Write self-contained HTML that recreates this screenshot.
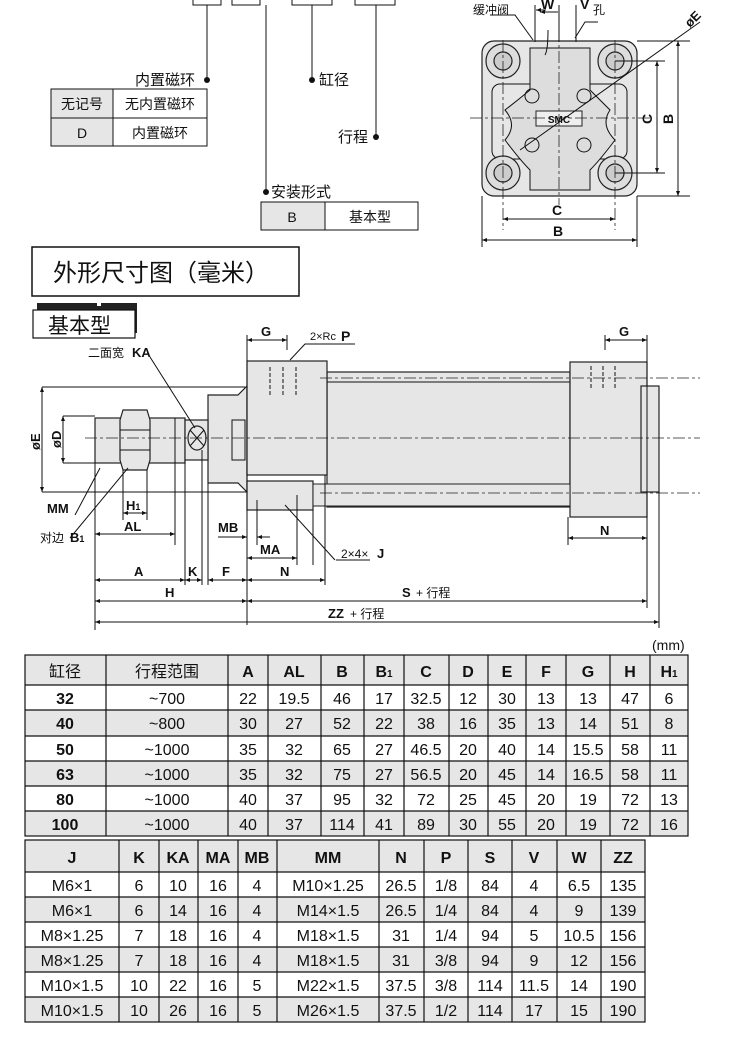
<!DOCTYPE html>
<html><head><meta charset="utf-8"><style>
body{margin:0;background:#fff}
svg{display:block}
text{font-family:"Liberation Sans","Noto Sans CJK SC",sans-serif;fill:#111}
.b{font-weight:bold}
.d{stroke:#111;stroke-width:1;fill:none}
.g{fill:#e6e6e6;stroke:#222;stroke-width:1.2}
.c{stroke:#222;stroke-width:.8;stroke-dasharray:12 3 3 3;fill:none}
.t text{font-size:16px;text-anchor:middle}
</style></head><body>
<svg width="750" height="1037" viewBox="0 0 750 1037" xmlns="http://www.w3.org/2000/svg">
<defs><marker id="a" viewBox="0 0 10 10" refX="10" refY="5" markerWidth="7" markerHeight="5" orient="auto-start-reverse"><path d="M0,1 L10,5 L0,9z" fill="#111"/></marker></defs>

<g class="d" stroke-width="2"><rect x="193" y="-10" width="28" height="15"/><rect x="232" y="-10" width="28" height="15"/><rect x="292" y="-10" width="40" height="15"/><rect x="355" y="-10" width="40" height="15"/></g>
<g class="d"><path d="M207,5V80M266,5V192M312,5V80M376,5V137"/></g>
<g fill="#111"><circle cx="207" cy="80" r="3"/><circle cx="266" cy="192" r="3"/><circle cx="312" cy="80" r="3"/><circle cx="376" cy="137" r="3"/></g>
<text x="135" y="85" font-size="15">内置磁环</text>
<text x="319" y="85" font-size="15">缸径</text>
<text x="338" y="142" font-size="15">行程</text>
<text x="271" y="197" font-size="15">安装形式</text>
<rect x="51" y="89" width="62" height="29" fill="#e6e6e6"/><rect x="51" y="118" width="62" height="28" fill="#e6e6e6"/>
<g class="d" stroke-width="1.3"><rect x="51" y="89" width="156" height="57"/><path d="M113,89V146M51,118H207"/></g>
<text x="82" y="109" font-size="14" text-anchor="middle">无记号</text><text x="160" y="109" font-size="14" text-anchor="middle">无内置磁环</text>
<text x="82" y="138" font-size="14" text-anchor="middle">D</text><text x="160" y="138" font-size="14" text-anchor="middle">内置磁环</text>
<rect x="261" y="202" width="64" height="28" fill="#e6e6e6"/>
<g class="d" stroke-width="1.3"><rect x="261" y="202" width="157" height="28"/><path d="M325,202V230"/></g>
<text x="292" y="222" font-size="14" text-anchor="middle">B</text><text x="370" y="222" font-size="14" text-anchor="middle">基本型</text>

<!-- end view -->
<rect x="482" y="41" width="155" height="155" rx="12" class="g"/>
<g class="d" stroke="#333"><rect x="492" y="84" width="135" height="75" rx="8"/><path d="M530,48H590V90Q600,100 610,110Q600,125 615,140Q600,160 590,170V190H530V170Q520,160 505,140Q518,125 505,110Q518,100 530,90Z" fill="#ddd"/><circle cx="532" cy="96" r="7"/><circle cx="584" cy="96" r="7"/><circle cx="532" cy="145" r="7"/><circle cx="584" cy="145" r="7"/></g>
<rect x="536" y="111" width="46" height="15" fill="#eee" stroke="#222"/><text x="559" y="123" font-size="10" text-anchor="middle" class="b">SMC</text>
<g stroke="#222" stroke-width="1.2"><circle cx="503" cy="61" r="17" fill="#ddd"/><circle cx="615" cy="61" r="17" fill="#ddd"/><circle cx="503" cy="173" r="17" fill="#ddd"/><circle cx="615" cy="173" r="17" fill="#ddd"/><circle cx="503" cy="61" r="9" fill="#ccc"/><circle cx="615" cy="61" r="9" fill="#ccc"/><circle cx="503" cy="173" r="9" fill="#ccc"/><circle cx="615" cy="173" r="9" fill="#ccc"/></g>
<g class="c"><path d="M470,118H650M559,30V205M503,40V230M615,40V230"/></g>
<g class="d"><path d="M535,5V42M576,5V42M559,5V42"/><path d="M637,41H690M637,196H690M615,61H665M615,173H665M482,196V247M637,196V247"/>
<path d="M548,30 Q548,50 545,55" /><path d="M490,15H515L533,40"/><path d="M598,22H585L575,38"/>
<line x1="546" y1="10" x2="536" y2="10" marker-end="url(#a)"/><line x1="540" y1="12" x2="558" y2="12" marker-start="url(#a)"/>
<line x1="503" y1="219" x2="615" y2="219" marker-start="url(#a)" marker-end="url(#a)"/>
<line x1="482" y1="240" x2="637" y2="240" marker-start="url(#a)" marker-end="url(#a)"/>
<line x1="657" y1="61" x2="657" y2="173" marker-start="url(#a)" marker-end="url(#a)"/>
<line x1="678" y1="41" x2="678" y2="196" marker-start="url(#a)" marker-end="url(#a)"/>
<line x1="520" y1="150" x2="700" y2="22"/></g>
<text x="473" y="14" font-size="12">缓冲阀</text><text x="593" y="14" font-size="12">孔</text>
<text x="541" y="9" font-size="14" class="b">W</text><text x="580" y="9" font-size="14" class="b">V</text>
<text x="552" y="215" font-size="14" class="b">C</text><text x="553" y="236" font-size="14" class="b">B</text>
<text transform="translate(652,124) rotate(-90)" font-size="14" class="b">C</text>
<text transform="translate(673,124) rotate(-90)" font-size="14" class="b">B</text>
<text transform="translate(690,28) rotate(-45)" font-size="13" class="b">øE</text>

<rect x="32" y="247" width="267" height="49" fill="#fff" stroke="#111" stroke-width="1.5"/>
<text x="53" y="281" font-size="24">外形尺寸图（毫米）</text>
<rect x="37" y="303" width="100" height="30" fill="#222"/><rect x="97" y="300" width="4" height="6" fill="#fff"/>
<rect x="33" y="310" width="102" height="28" fill="#fff" stroke="#111" stroke-width="1.2"/>
<text x="48" y="333" font-size="21">基本型</text>

<!-- main drawing -->
<path d="M208,395H238L247,386V492L238,483H208Z" class="g"/>
<rect x="327" y="372" width="243" height="135" class="g"/>
<path d="M327,382H570M327,497H570" class="d" stroke="#333"/>
<rect x="247" y="361" width="80" height="114" class="g"/>
<rect x="570" y="362" width="77" height="155" class="g"/>
<rect x="641" y="386" width="18" height="106" class="g"/>
<rect x="247" y="481" width="66" height="29" class="g"/>
<rect x="313" y="484" width="257" height="22" fill="#e6e6e6" stroke="#222"/>
<rect x="95" y="418" width="90" height="45" class="g"/>
<rect x="185" y="420" width="23" height="40" class="g"/>
<path d="M123,410H147L150,420V460L147,470H123L120,460V420Z" class="g"/>
<path d="M120,430H150M120,450H150" class="d"/>
<ellipse cx="197" cy="438" rx="9" ry="12" class="g"/><path d="M190,430L204,446M204,430L190,446" class="d"/>
<path d="M232,420H245V460H232Z" class="d"/>
<g class="d" stroke-dasharray="4 2"><path d="M270,367V395M283,367V395M296,367V395M591,366V390M603,366V390M615,366V390"/></g>
<g class="c"><path d="M85,438H700M320,378H700M320,493H700"/></g>

<g class="d">
<path d="M42,387H245M42,492H247M63,416H95M63,463H95"/>
<line x1="42" y1="387" x2="42" y2="492" marker-start="url(#a)" marker-end="url(#a)"/>
<line x1="63" y1="416" x2="63" y2="463" marker-start="url(#a)" marker-end="url(#a)"/>
<path d="M95,463V630M123,470V520M147,470V520M175,418V545M185,460V585M202,450V585M208,483V585M247,335V625M287,335V350M313,510V565M325,475V585M568,517V545M647,335V608M659,492V628M605,335V350"/>
<line x1="123" y1="513" x2="147" y2="513" marker-start="url(#a)" marker-end="url(#a)"/>
<line x1="95" y1="534" x2="175" y2="534" marker-start="url(#a)" marker-end="url(#a)"/>
<line x1="95" y1="580" x2="185" y2="580" marker-start="url(#a)" marker-end="url(#a)"/>
<line x1="185" y1="580" x2="202" y2="580" marker-start="url(#a)" marker-end="url(#a)"/>
<line x1="208" y1="580" x2="247" y2="580" marker-start="url(#a)" marker-end="url(#a)"/>
<line x1="247" y1="580" x2="325" y2="580" marker-start="url(#a)" marker-end="url(#a)"/>
<line x1="95" y1="601" x2="247" y2="601" marker-start="url(#a)" marker-end="url(#a)"/>
<line x1="247" y1="601" x2="647" y2="601" marker-start="url(#a)" marker-end="url(#a)"/>
<line x1="95" y1="622" x2="659" y2="622" marker-start="url(#a)" marker-end="url(#a)"/>
<line x1="247" y1="558" x2="297" y2="558" marker-start="url(#a)" marker-end="url(#a)"/>
<line x1="218" y1="537" x2="247" y2="537" marker-end="url(#a)"/><line x1="270" y1="537" x2="257" y2="537" marker-end="url(#a)"/>
<path d="M257,500V545M297,495V565"/>
<line x1="568" y1="538" x2="647" y2="538" marker-start="url(#a)" marker-end="url(#a)"/>
<line x1="247" y1="340" x2="287" y2="340" marker-start="url(#a)" marker-end="url(#a)"/>
<line x1="605" y1="340" x2="647" y2="340" marker-start="url(#a)" marker-end="url(#a)"/>
<path d="M355,344H305L290,360M150,357L195,428M75,515L100,468M70,538L128,468M335,560L285,505M336,560H370"/>
</g>
<g font-size="13" class="b">
<text x="261" y="336">G</text><text x="619" y="336">G</text>
<text x="310" y="340" font-size="11" font-weight="normal">2×Rc</text><text x="341" y="341" font-size="14">P</text>
<text x="88" y="357" font-size="12" font-weight="normal">二面宽</text><text x="132" y="357">KA</text>
<text transform="translate(40,450) rotate(-90)">øE</text><text transform="translate(61,448) rotate(-90)">øD</text>
<text x="47" y="513">MM</text><text x="126" y="510">H<tspan font-size="9">1</tspan></text>
<text x="124" y="531">AL</text><text x="40" y="542" font-size="12" font-weight="normal">对边</text><text x="70" y="542">B<tspan font-size="9">1</tspan></text>
<text x="218" y="532">MB</text><text x="260" y="554">MA</text><text x="341" y="558" font-size="12" font-weight="normal">2×4×</text><text x="377" y="558">J</text>
<text x="134" y="576">A</text><text x="188" y="576">K</text><text x="222" y="576">F</text><text x="280" y="576">N</text><text x="600" y="535">N</text>
<text x="165" y="597">H</text><text x="402" y="597">S</text><text x="416" y="597" font-size="12" font-weight="normal">+ 行程</text>
<text x="328" y="618">ZZ</text><text x="350" y="618" font-size="12" font-weight="normal">+ 行程</text>
</g>
<text x="652" y="650" font-size="14">(mm)</text>

<!-- table 1 -->
<g class="t">
<rect x="25" y="655" width="663" height="30" fill="#e6e6e6"/>
<rect x="25" y="710" width="663" height="26" fill="#e6e6e6"/><rect x="25" y="761" width="663" height="25" fill="#e6e6e6"/><rect x="25" y="811" width="663" height="25" fill="#e6e6e6"/>
<g stroke="#111" stroke-width="1.2" fill="none"><rect x="25" y="655" width="663" height="181"/>
<path d="M106,655V836M228,655V836M268,655V836M321,655V836M364,655V836M404,655V836M449,655V836M488,655V836M526,655V836M566,655V836M610,655V836M650,655V836M25,685H688M25,710H688M25,736H688M25,761H688M25,786H688M25,811H688"/></g>
<g font-size="17"><text x="65" y="677">缸径</text><text x="167" y="677">行程范围</text></g>
<g class="b" font-size="17"><text x="248" y="677">A</text><text x="294" y="677">AL</text><text x="342" y="677">B</text><text x="384" y="677">B<tspan font-size="10">1</tspan></text><text x="426" y="677">C</text><text x="468" y="677">D</text><text x="507" y="677">E</text><text x="546" y="677">F</text><text x="588" y="677">G</text><text x="630" y="677">H</text><text x="669" y="677">H<tspan font-size="10">1</tspan></text>
<text x="65" y="704">32</text><text x="65" y="729">40</text><text x="65" y="755">50</text><text x="65" y="780">63</text><text x="65" y="805">80</text><text x="65" y="830">100</text></g>
<g><text x="167" y="704">~700</text><text x="248" y="704">22</text><text x="294" y="704">19.5</text><text x="342" y="704">46</text><text x="384" y="704">17</text><text x="426" y="704">32.5</text><text x="468" y="704">12</text><text x="507" y="704">30</text><text x="546" y="704">13</text><text x="588" y="704">13</text><text x="630" y="704">47</text><text x="669" y="704">6</text></g>
<g><text x="167" y="729">~800</text><text x="248" y="729">30</text><text x="294" y="729">27</text><text x="342" y="729">52</text><text x="384" y="729">22</text><text x="426" y="729">38</text><text x="468" y="729">16</text><text x="507" y="729">35</text><text x="546" y="729">13</text><text x="588" y="729">14</text><text x="630" y="729">51</text><text x="669" y="729">8</text></g>
<g><text x="167" y="755">~1000</text><text x="248" y="755">35</text><text x="294" y="755">32</text><text x="342" y="755">65</text><text x="384" y="755">27</text><text x="426" y="755">46.5</text><text x="468" y="755">20</text><text x="507" y="755">40</text><text x="546" y="755">14</text><text x="588" y="755">15.5</text><text x="630" y="755">58</text><text x="669" y="755">11</text></g>
<g><text x="167" y="780">~1000</text><text x="248" y="780">35</text><text x="294" y="780">32</text><text x="342" y="780">75</text><text x="384" y="780">27</text><text x="426" y="780">56.5</text><text x="468" y="780">20</text><text x="507" y="780">45</text><text x="546" y="780">14</text><text x="588" y="780">16.5</text><text x="630" y="780">58</text><text x="669" y="780">11</text></g>
<g><text x="167" y="805">~1000</text><text x="248" y="805">40</text><text x="294" y="805">37</text><text x="342" y="805">95</text><text x="384" y="805">32</text><text x="426" y="805">72</text><text x="468" y="805">25</text><text x="507" y="805">45</text><text x="546" y="805">20</text><text x="588" y="805">19</text><text x="630" y="805">72</text><text x="669" y="805">13</text></g>
<g><text x="167" y="830">~1000</text><text x="248" y="830">40</text><text x="294" y="830">37</text><text x="342" y="830">114</text><text x="384" y="830">41</text><text x="426" y="830">89</text><text x="468" y="830">30</text><text x="507" y="830">55</text><text x="546" y="830">20</text><text x="588" y="830">19</text><text x="630" y="830">72</text><text x="669" y="830">16</text></g>
</g>

<!-- table 2 -->
<g class="t">
<rect x="25" y="840" width="620" height="32" fill="#e6e6e6"/>
<rect x="25" y="897" width="620" height="25" fill="#e6e6e6"/><rect x="25" y="947" width="620" height="25" fill="#e6e6e6"/><rect x="25" y="997" width="620" height="25" fill="#e6e6e6"/>
<g stroke="#111" stroke-width="1.2" fill="none"><rect x="25" y="840" width="620" height="182"/>
<path d="M119,840V1022M159,840V1022M198,840V1022M238,840V1022M277,840V1022M379,840V1022M424,840V1022M468,840V1022M512,840V1022M557,840V1022M601,840V1022M25,872H645M25,897H645M25,922H645M25,947H645M25,972H645M25,997H645"/></g>
<g class="b" font-size="17"><text x="72" y="863">J</text><text x="139" y="863">K</text><text x="178" y="863">KA</text><text x="218" y="863">MA</text><text x="257" y="863">MB</text><text x="328" y="863">MM</text><text x="401" y="863">N</text><text x="446" y="863">P</text><text x="490" y="863">S</text><text x="534" y="863">V</text><text x="579" y="863">W</text><text x="623" y="863">ZZ</text></g>
<g><text x="72" y="891">M6×1</text><text x="139" y="891">6</text><text x="178" y="891">10</text><text x="218" y="891">16</text><text x="257" y="891">4</text><text x="328" y="891">M10×1.25</text><text x="401" y="891">26.5</text><text x="446" y="891">1/8</text><text x="490" y="891">84</text><text x="534" y="891">4</text><text x="579" y="891">6.5</text><text x="623" y="891">135</text></g>
<g><text x="72" y="916">M6×1</text><text x="139" y="916">6</text><text x="178" y="916">14</text><text x="218" y="916">16</text><text x="257" y="916">4</text><text x="328" y="916">M14×1.5</text><text x="401" y="916">26.5</text><text x="446" y="916">1/4</text><text x="490" y="916">84</text><text x="534" y="916">4</text><text x="579" y="916">9</text><text x="623" y="916">139</text></g>
<g><text x="72" y="941">M8×1.25</text><text x="139" y="941">7</text><text x="178" y="941">18</text><text x="218" y="941">16</text><text x="257" y="941">4</text><text x="328" y="941">M18×1.5</text><text x="401" y="941">31</text><text x="446" y="941">1/4</text><text x="490" y="941">94</text><text x="534" y="941">5</text><text x="579" y="941">10.5</text><text x="623" y="941">156</text></g>
<g><text x="72" y="966">M8×1.25</text><text x="139" y="966">7</text><text x="178" y="966">18</text><text x="218" y="966">16</text><text x="257" y="966">4</text><text x="328" y="966">M18×1.5</text><text x="401" y="966">31</text><text x="446" y="966">3/8</text><text x="490" y="966">94</text><text x="534" y="966">9</text><text x="579" y="966">12</text><text x="623" y="966">156</text></g>
<g><text x="72" y="991">M10×1.5</text><text x="139" y="991">10</text><text x="178" y="991">22</text><text x="218" y="991">16</text><text x="257" y="991">5</text><text x="328" y="991">M22×1.5</text><text x="401" y="991">37.5</text><text x="446" y="991">3/8</text><text x="490" y="991">114</text><text x="534" y="991">11.5</text><text x="579" y="991">14</text><text x="623" y="991">190</text></g>
<g><text x="72" y="1016">M10×1.5</text><text x="139" y="1016">10</text><text x="178" y="1016">26</text><text x="218" y="1016">16</text><text x="257" y="1016">5</text><text x="328" y="1016">M26×1.5</text><text x="401" y="1016">37.5</text><text x="446" y="1016">1/2</text><text x="490" y="1016">114</text><text x="534" y="1016">17</text><text x="579" y="1016">15</text><text x="623" y="1016">190</text></g>
</g>
</svg>
</body></html>
